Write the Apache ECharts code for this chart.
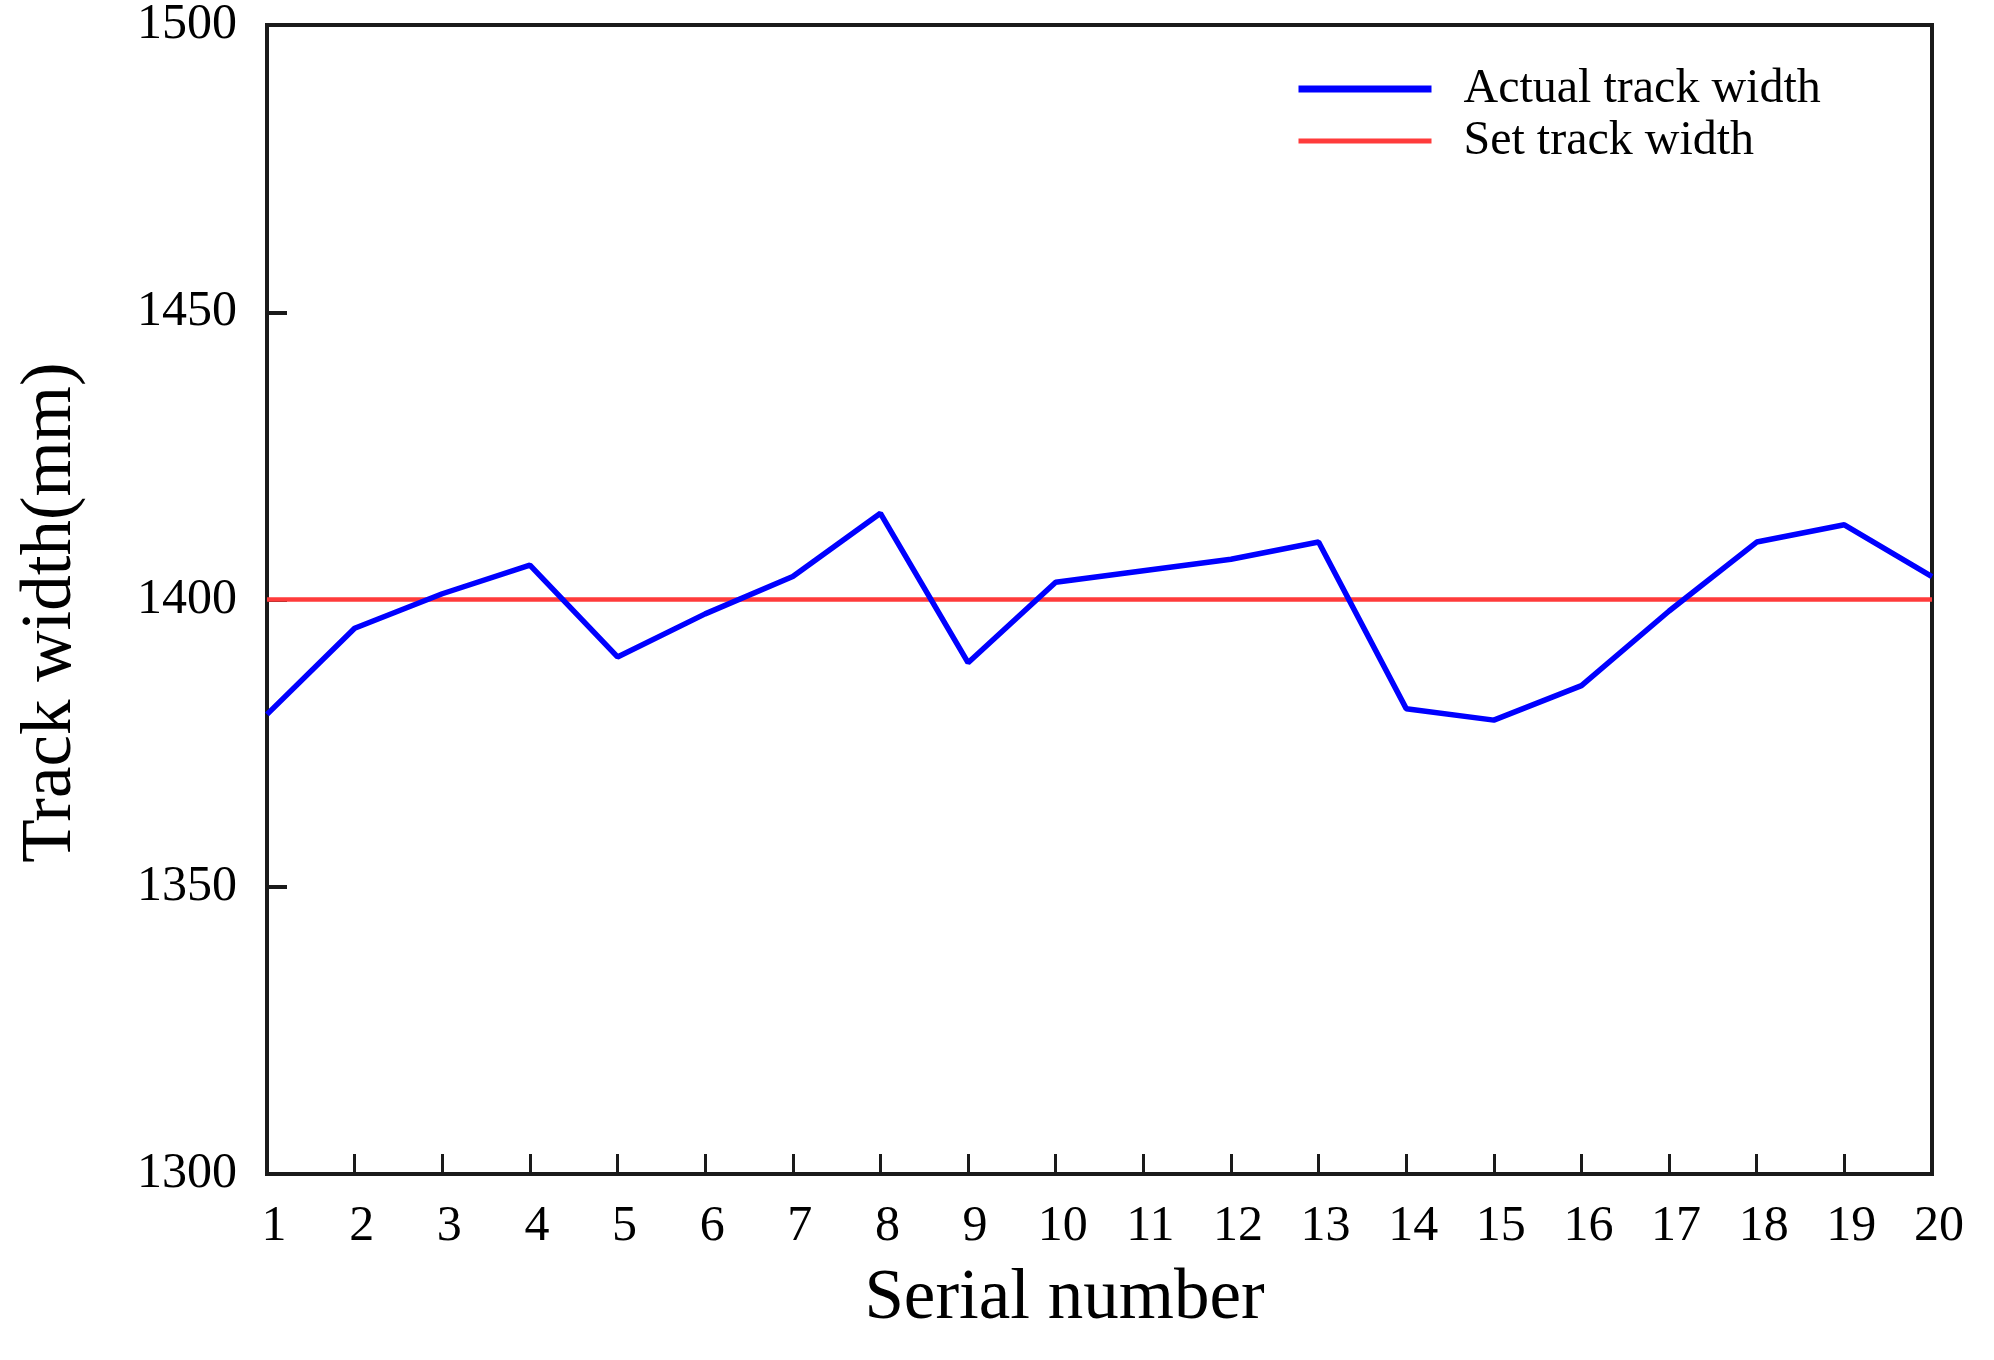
<!DOCTYPE html>
<html>
<head>
<meta charset="utf-8">
<script src="https://cdn.jsdelivr.net/npm/echarts@6/dist/echarts.min.js"></script>
<style>
  html, body { margin: 0; padding: 0; background: #fff; }
  #chart { width: 1994px; height: 1360px; }
</style>
</head>
<body>
<div id="chart"></div>
<script>
const serialNumbers = ['1','2','3','4','5','6','7','8','9','10','11','12','13','14','15','16','17','18','19','20'];
const actualTrack = [1380, 1395, 1401, 1406, 1390, 1397.5, 1404, 1415, 1389, 1403, 1405, 1407, 1410, 1381, 1379, 1385, 1398, 1410, 1413, 1404];
const setTrack = [1400, 1400, 1400, 1400, 1400, 1400, 1400, 1400, 1400, 1400, 1400, 1400, 1400, 1400, 1400, 1400, 1400, 1400, 1400, 1400];
const seriesNames = ['Actual track width', 'Set track width'];
const yTicks = { min: 1300, max: 1500, step: 50 };

const FONT = '"Liberation Serif", "DejaVu Serif", serif';
const chart = echarts.init(document.getElementById('chart'));
chart.setOption({
  animation: false,
  backgroundColor: '#ffffff',
  grid: {
    left: 267, right: 62, top: 25, bottom: 186,
    show: true, borderColor: '#1a1a1a', borderWidth: 4, backgroundColor: 'transparent'
  },
  legend: {
    orient: 'vertical',
    left: 1290, top: 60,
    itemWidth: 133, itemHeight: 14, itemGap: 4,
    textStyle: { fontFamily: FONT, fontSize: 48, color: '#000', lineHeight: 48, padding: [0, 0, 0, 27] },
    data: [
      { name: seriesNames[0], lineStyle: { width: 7, color: '#0000ff' }, itemStyle: { opacity: 0 } },
      { name: seriesNames[1], lineStyle: { width: 5, color: '#ff3b3b' }, itemStyle: { opacity: 0 } }
    ]
  },
  xAxis: {
    type: 'category',
    data: serialNumbers,
    boundaryGap: false,
    name: 'Serial number',
    nameLocation: 'middle',
    nameGap: 90,
    nameTextStyle: { fontFamily: FONT, fontSize: 71, color: '#000', padding: [0, 70, 0, 0] },
    axisLine: { lineStyle: { color: '#1a1a1a', width: 4 } },
    axisTick: { inside: true, length: 20, alignWithLabel: true, lineStyle: { color: '#1a1a1a', width: 3 } },
    axisLabel: { fontFamily: FONT, fontSize: 50, color: '#000', margin: 28, interval: 0, padding: [0, 0, 0, 14] },
    splitLine: { show: false }
  },
  yAxis: {
    type: 'value',
    min: yTicks.min, max: yTicks.max, interval: yTicks.step,
    name: 'Track width(mm)',
    nameLocation: 'middle',
    nameGap: 180,
    nameTextStyle: { fontFamily: FONT, fontSize: 71, color: '#000', padding: [0, 26, 0, 0] },
    axisLine: { show: true, lineStyle: { color: '#1a1a1a', width: 4 } },
    axisTick: { show: true, inside: true, length: 20, lineStyle: { color: '#1a1a1a', width: 4 } },
    axisLabel: { fontFamily: FONT, fontSize: 50, color: '#000', margin: 30, padding: [12, 0, 0, 0], formatter: function (v) { return String(v); } },
    splitLine: { show: false }
  },
  series: [
    {
      name: seriesNames[0], type: 'line', data: actualTrack,
      symbol: 'none', lineStyle: { color: '#0000ff', width: 5.5 }, itemStyle: { color: '#0000ff' }, z: 3
    },
    {
      name: seriesNames[1], type: 'line', data: setTrack,
      symbol: 'none', lineStyle: { color: '#ff3b3b', width: 4.5 }, itemStyle: { color: '#ff3b3b' }, z: 2
    }
  ]
});
</script>
</body>
</html>
